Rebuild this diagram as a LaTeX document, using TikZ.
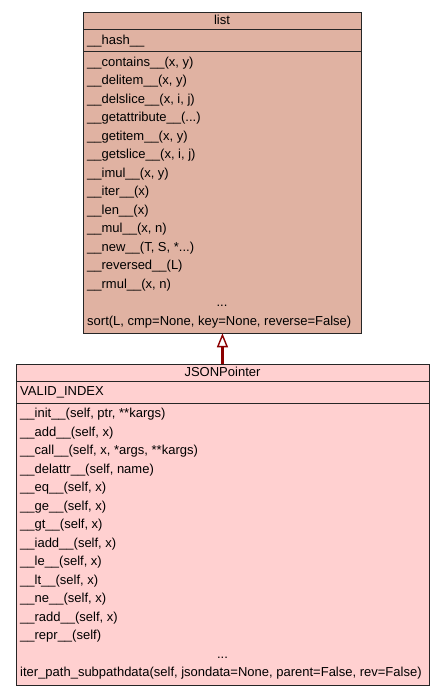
\documentclass[tikz,border=0pt]{standalone}
\usepackage{fontspec}
\setmainfont{Liberation Sans}
\usetikzlibrary{arrows.meta}
\definecolor{listfill}{RGB}{224,178,162}
\definecolor{jpfill}{RGB}{255,208,208}
\definecolor{edgered}{RGB}{139,0,0}
\begin{document}
\begin{tikzpicture}[x=1pt,y=-1pt,
  classbox/.style={draw=black!85, line width=0.9pt, rectangle, inner sep=0pt, anchor=north west},
  txt/.style={inner sep=0pt, anchor=base west, font=\fontsize{13}{15}\selectfont},
  ctxt/.style={inner sep=0pt, anchor=base, font=\fontsize{13}{15}\selectfont},
  sep/.style={draw=black!85, line width=0.9pt},
  inherit/.style={draw=edgered, line width=2.6pt, -{Triangle[open, length=14pt, width=11pt, line width=1.4pt, fill=white]}}
]
\useasboundingbox (0,0) rectangle (445,696);
% ---------- list ----------
\node[classbox, fill=listfill, minimum width=278pt, minimum height=321pt] (list) at (83,12) {};
\draw[sep] (83,29) -- (361,29);
\draw[sep] (83,51) -- (361,51);
\node[ctxt] (lt) at (222,24.5) {list};
\node[txt] (la) at (87,44.5) {\_\_hash\_\_};
\node[txt] (l1) at (87,66) {\_\_contains\_\_(x, y)};
\node[txt] (l2) at (87,84.5) {\_\_delitem\_\_(x, y)};
\node[txt] (l3) at (87,103) {\_\_delslice\_\_(x, i, j)};
\node[txt] (l4) at (87,121.5) {\_\_getattribute\_\_(...)};
\node[txt] (l5) at (87,140) {\_\_getitem\_\_(x, y)};
\node[txt] (l6) at (87,158.5) {\_\_getslice\_\_(x, i, j)};
\node[txt] (l7) at (87,177) {\_\_imul\_\_(x, y)};
\node[txt] (l8) at (87,195.5) {\_\_iter\_\_(x)};
\node[txt] (l9) at (87,214) {\_\_len\_\_(x)};
\node[txt] (l10) at (87,232.5) {\_\_mul\_\_(x, n)};
\node[txt] (l11) at (87,251) {\_\_new\_\_(T, S, *...)};
\node[txt] (l12) at (87,269.5) {\_\_reversed\_\_(L)};
\node[txt] (l13) at (87,288) {\_\_rmul\_\_(x, n)};
\node[ctxt] (l14) at (222,306.5) {...};
\node[txt] (l15) at (87,325) {sort(L, cmp=None, key=None, reverse=False)};
% ---------- JSONPointer ----------
\node[classbox, fill=jpfill, minimum width=413pt, minimum height=321pt] (jp) at (16,364) {};
\draw[sep] (16,381) -- (429,381);
\draw[sep] (16,403) -- (429,403);
\node[ctxt] (jt) at (222.5,376.5) {JSONPointer};
\node[txt] (ja) at (20,395.5) {VALID\_INDEX};
\node[txt] (j1) at (20,417.5) {\_\_init\_\_(self, ptr, **kargs)};
\node[txt] (j2) at (20,436) {\_\_add\_\_(self, x)};
\node[txt] (j3) at (20,454.5) {\_\_call\_\_(self, x, *args, **kargs)};
\node[txt] (j4) at (20,473) {\_\_delattr\_\_(self, name)};
\node[txt] (j5) at (20,491.5) {\_\_eq\_\_(self, x)};
\node[txt] (j6) at (20,510) {\_\_ge\_\_(self, x)};
\node[txt] (j7) at (20,528.5) {\_\_gt\_\_(self, x)};
\node[txt] (j8) at (20,547) {\_\_iadd\_\_(self, x)};
\node[txt] (j9) at (20,565.5) {\_\_le\_\_(self, x)};
\node[txt] (j10) at (20,584) {\_\_lt\_\_(self, x)};
\node[txt] (j11) at (20,602.5) {\_\_ne\_\_(self, x)};
\node[txt] (j12) at (20,621) {\_\_radd\_\_(self, x)};
\node[txt] (j13) at (20,639.5) {\_\_repr\_\_(self)};
\node[ctxt] (j14) at (222.5,658) {...};
\node[txt] (j15) at (20,676.5) {iter\_path\_subpathdata(self, jsondata=None, parent=False, rev=False)};
% ---------- inheritance ----------
\draw[inherit] (jp.north -| list.south) -- ([yshift=0.6pt]list.south);
\end{tikzpicture}
\end{document}
